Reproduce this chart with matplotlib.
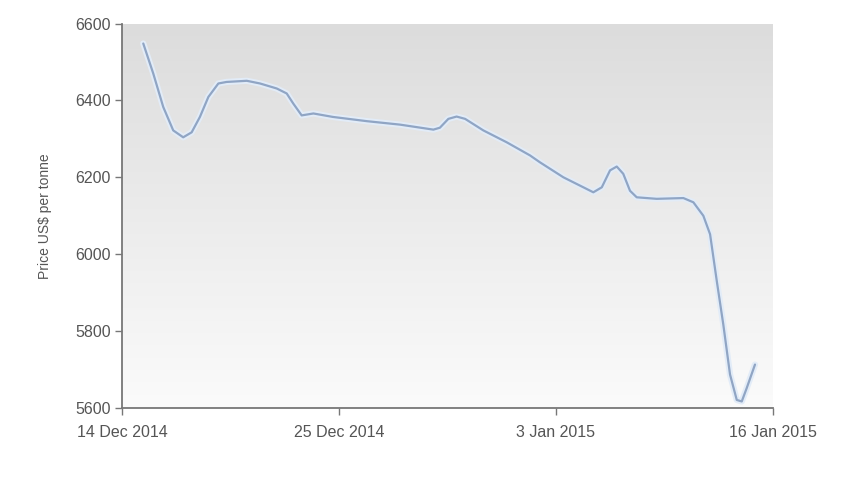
import matplotlib
matplotlib.use("Agg")
import matplotlib.pyplot as plt
import numpy as np
from matplotlib.colors import LinearSegmentedColormap

# Data (x: position on axis scale where tick labels sit at 0, 10, 20, 30)
tick_pos = [0, 10, 20, 30]
tick_labels = ["14 Dec 2014", "25 Dec 2014", "3 Jan 2015", "16 Jan 2015"]
x_pos = [0.98, 1.44, 1.90, 2.36, 2.82, 3.21, 3.59, 3.98, 4.44, 4.82, 5.75, 6.36,
         7.13, 7.59, 7.89, 8.28, 8.82, 9.72, 11.28, 12.81, 14.35, 14.65, 15.04,
         15.42, 15.81, 16.65, 17.73, 18.80, 19.26, 20.34, 21.72, 22.11, 22.49,
         22.80, 23.10, 23.41, 23.72, 24.64, 25.87, 26.33, 26.79, 27.10, 27.41,
         27.71, 28.02, 28.33, 28.56, 28.79, 29.17]
price = [6548, 6470, 6383, 6322, 6304, 6317, 6357, 6409, 6444, 6448, 6451, 6444,
         6431, 6418, 6392, 6361, 6366, 6357, 6346, 6337, 6324, 6329, 6352,
         6358, 6352, 6322, 6291, 6257, 6239, 6200, 6161, 6174, 6218,
         6228, 6209, 6165, 6148, 6144, 6146, 6135, 6100, 6052, 5930,
         5817, 5687, 5621, 5617, 5652, 5713]
y_ticks = [5600, 5800, 6000, 6200, 6400, 6600]

plt.rcParams["font.family"] = ["Liberation Sans", "DejaVu Sans"]

fig = plt.figure(figsize=(8.6, 4.8), dpi=100)
ax = fig.add_axes([122/860, 1 - 408/480, 651/860, (408 - 23.5)/480])

# gradient background
grad = np.linspace(0, 1, 256).reshape(-1, 1)
cmap = LinearSegmentedColormap.from_list("bg", ["#fbfbfb", "#dcdcdc"])
ax.imshow(grad, aspect="auto", cmap=cmap, origin="lower",
          extent=[0, 1, 0, 1], transform=ax.transAxes, zorder=0)

ax.plot(x_pos, price, color="#e2ecf8", lw=4.5, solid_capstyle="round",
        solid_joinstyle="round", zorder=2)
ax.plot(x_pos, price, color="#90a5c4", lw=1.6, solid_capstyle="round",
        solid_joinstyle="round", zorder=3)

ax.set_xlim(0, 30)
ax.set_ylim(5600, 6600)
ax.set_xticks(tick_pos)
ax.set_xticklabels(tick_labels)
ax.set_yticks(y_ticks)
ax.set_yticklabels([str(v) for v in y_ticks])

for s in ["top", "right"]:
    ax.spines[s].set_visible(False)
for s in ["left", "bottom"]:
    ax.spines[s].set_color("#777777")
    ax.spines[s].set_linewidth(1.3)
    ax.spines[s].set_zorder(4)

ax.tick_params(axis="both", colors="#777777", labelcolor="#555555",
               labelsize=11.5, length=5, width=1.0)
ax.tick_params(axis="y", pad=3)
ax.tick_params(axis="x", pad=7)

ax.set_ylabel("Price US$ per tonne", fontsize=10, color="#555555")
ax.yaxis.set_label_coords(-0.107, 0.5)

fig.savefig("out.png", dpi=100, facecolor="white")
